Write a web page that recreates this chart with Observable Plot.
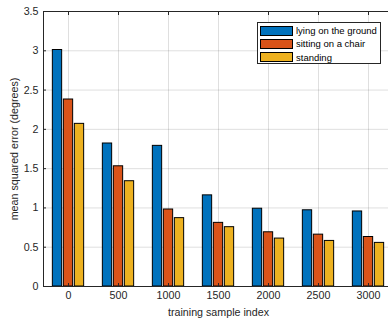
<!DOCTYPE html>
<html><head><meta charset="utf-8">
<script src="https://cdn.jsdelivr.net/npm/d3@7"></script>
<script src="https://cdn.jsdelivr.net/npm/@observablehq/plot@0.6"></script>
<style>
html,body{margin:0;padding:0;background:#fff;overflow:hidden;}
#chart{position:relative;width:388px;height:325px;}
.legend{position:absolute;left:257px;top:22px;width:124px;height:42px;border:1px solid #262626;background:#fff;font-family:"Liberation Sans",Arial,sans-serif;font-size:9.5px;color:#000;box-sizing:border-box;}
.legend .row{position:absolute;left:2px;height:11px;display:flex;align-items:center;white-space:nowrap;}
.legend .sw{width:31px;height:8px;border:1px solid #000;margin-right:3px;}
</style></head><body><div id="chart"></div>
<script>
const categories = ["0","500","1000","1500","2000","2500","3000"];
const seriesNames = ["lying on the ground","sitting on a chair","standing"];
const lying    = [3.01, 1.82, 1.79, 1.16, 0.99, 0.97, 0.955];
const sitting  = [2.38, 1.53, 0.98, 0.81, 0.69, 0.66, 0.63];
const standing = [2.07, 1.34, 0.87, 0.755, 0.61, 0.58, 0.555];
const colors = ["#0072BD","#D95319","#EDB120"];
const yTicks = [0, 0.5, 1, 1.5, 2, 2.5, 3, 3.5];

const seriesValues = [lying, sitting, standing];
const table = seriesNames.map((s, k) => categories.map((c, i) => ({category: c, series: s, value: seriesValues[k][i]})));

const barWidth = 9.3, barStep = 11, band = 50;
const inset = (band - barWidth) / 2;

const chart = Plot.plot({
  width: 388, height: 325,
  marginLeft: 43, marginRight: -5, marginTop: 11, marginBottom: 39,
  style: {fontFamily: "'Liberation Sans', Arial, sans-serif", fontSize: "10.7px", color: "#262626", background: "#fff", overflow: "hidden"},
  x: {domain: categories, padding: 0},
  y: {domain: [0, 3.5]},
  color: {domain: seriesNames, range: colors},
  marks: [
    Plot.gridY(yTicks, {stroke: "#262626", strokeOpacity: 0.15, strokeWidth: 1}),
    Plot.gridX(categories, {stroke: "#262626", strokeOpacity: 0.15, strokeWidth: 1}),
    ...table.map((rows, k) => Plot.barY(rows, {
      x: "category", y: "value", fill: "series", stroke: "#000", strokeWidth: 1,
      insetLeft: inset, insetRight: inset, dx: (k - 1) * barStep
    })),
    Plot.frame({stroke: "#262626", strokeWidth: 1}),
    Plot.axisY(yTicks, {anchor: "left", tickSize: -3, tickPadding: 8, tickFormat: d => String(d),
      label: "mean squared error (degrees)", labelAnchor: "center", labelArrow: "none", labelOffset: 33, fontSize: 10.7}),
    Plot.axisY(yTicks, {anchor: "right", tickSize: -3, tickFormat: () => "", label: null}),
    Plot.axisX(categories, {anchor: "bottom", tickSize: -3, tickPadding: 8,
      label: "training sample index", labelAnchor: "center", labelArrow: "none", labelOffset: 29, fontSize: 10.7}),
    Plot.axisX(categories, {anchor: "top", tickSize: -3, tickFormat: () => "", label: null})
  ]
});
document.getElementById("chart").appendChild(chart);

const legend = document.createElement("div");
legend.className = "legend";
seriesNames.forEach((s, k) => {
  const row = document.createElement("div");
  row.className = "row";
  row.style.top = (2 + k * 13.4) + "px";
  const sw = document.createElement("span");
  sw.className = "sw";
  sw.style.background = colors[k];
  const t = document.createElement("span");
  t.textContent = s;
  row.appendChild(sw); row.appendChild(t);
  legend.appendChild(row);
});
document.getElementById("chart").appendChild(legend);
</script></body></html>
